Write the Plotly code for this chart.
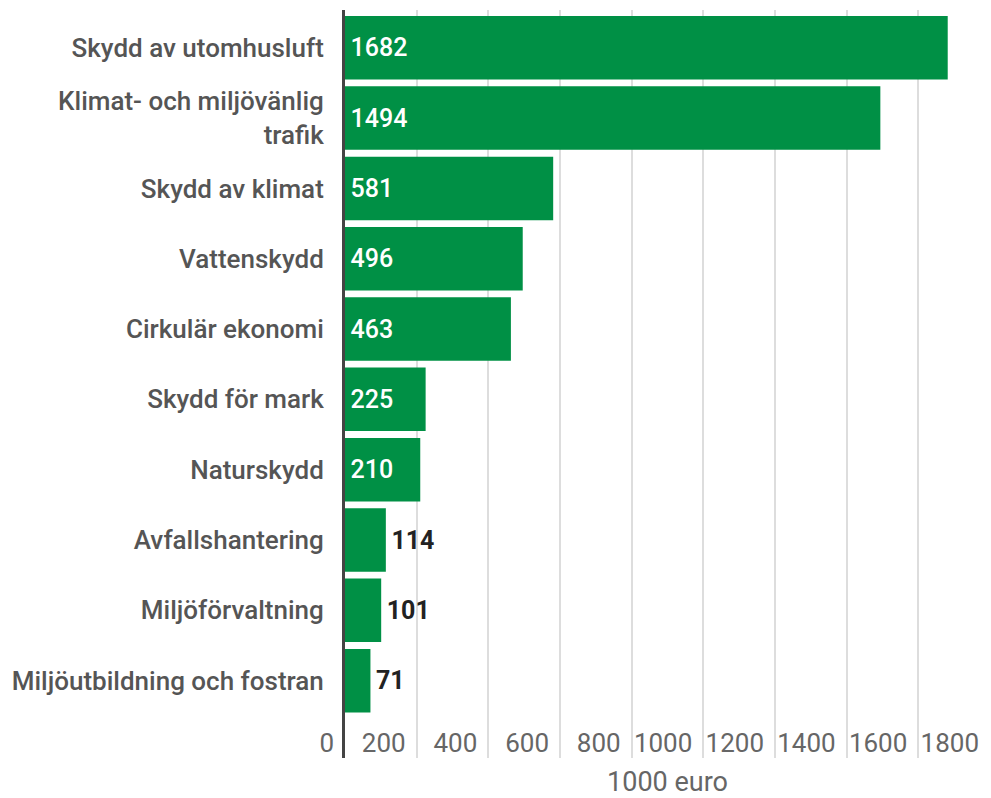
import plotly.graph_objects as go

categories = [
    "Skydd av utomhusluft",
    "Klimat- och miljövänlig<br>trafik",
    "Skydd av klimat",
    "Vattenskydd",
    "Cirkulär ekonomi",
    "Skydd för mark",
    "Naturskydd",
    "Avfallshantering",
    "Miljöförvaltning",
    "Miljöutbildning och fostran",
]
values = [1682, 1494, 581, 496, 463, 225, 210, 114, 101, 71]
x_ticks = [0, 200, 400, 600, 800, 1000, 1200, 1400, 1600, 1800]
x_title = "1000 euro"

GREEN = "#009045"
positions = ["inside" if v >= 200 else "outside" for v in values]
texts = ["\u200a" + str(v) for v in values]

fig = go.Figure(
    go.Bar(
        x=values,
        y=categories,
        orientation="h",
        marker=dict(color=GREEN, line=dict(width=0)),
        text=texts,
        textposition=positions,
        insidetextanchor="start",
        textangle=0,
        insidetextfont=dict(family="Roboto", size=25, color="white", weight=500),
        outsidetextfont=dict(family="Roboto", size=25, color="#222222", weight=700),
        cliponaxis=False,
        hoverinfo="skip",
    )
)

fig.update_layout(
    width=983,
    height=790,
    margin=dict(l=337, r=1, t=2, b=40),
    paper_bgcolor="white",
    plot_bgcolor="white",
    bargap=0.097,
    showlegend=False,
    font=dict(family="Roboto", size=26, color="#666666"),
)

fig.update_xaxes(
    range=[0, 1800],
    tickvals=x_ticks,
    ticktext=[str(t) for t in x_ticks],
    showgrid=True,
    gridcolor="#dddddd",
    gridwidth=1.5,
    zeroline=False,
    showline=False,
    ticks="",
    ticklabelposition="outside left",
    ticklabelstandoff=-33,
    ticklabelshift=-11,
    tickfont=dict(family="Roboto", size=26, color="#666666"),
    title=dict(text=x_title, font=dict(family="Roboto", size=27, color="#666666"), standoff=16),
    automargin=False,
)

fig.update_yaxes(
    type="category",
    range=[10.10, -0.537],
    showgrid=False,
    zeroline=False,
    showline=True,
    linecolor="#444444",
    linewidth=3,
    ticks="",
    ticklabelstandoff=13,
    tickfont=dict(family="Roboto", size=26, color="#555555", weight=500),
    automargin=False,
)

fig.write_html("out.html")
